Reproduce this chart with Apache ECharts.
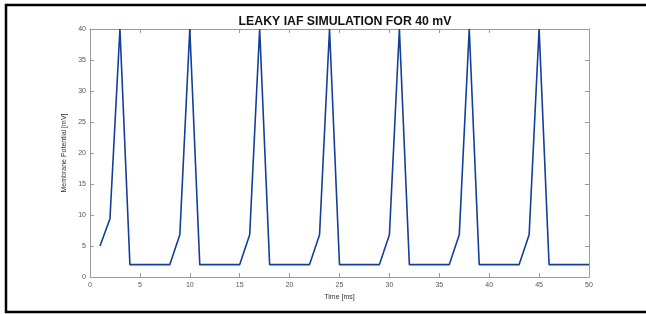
<!DOCTYPE html>
<html>
<head>
<meta charset="utf-8">
<script src="https://cdn.jsdelivr.net/npm/echarts@6/dist/echarts.min.js"></script>
<style>
html,body{margin:0;padding:0;background:#fff;overflow:hidden;}
#main{width:646px;height:314px;}
</style>
</head>
<body>
<div id="main"></div>
<script>
// time samples [ms] and membrane potential [mV]
var timeMs = [1,2,3,4,5,6,7,8,9,10,11,12,13,14,15,16,17,18,19,20,21,22,23,24,25,
              26,27,28,29,30,31,32,33,34,35,36,37,38,39,40,41,42,43,44,45,46,47,48,49,50];
var potential = [5,9.4,40,2,2,2,2,2,6.8,40,2,2,2,2,2,6.8,40,2,2,2,2,2,6.8,40,2,
                 2,2,2,2,6.8,40,2,2,2,2,2,6.8,40,2,2,2,2,2,6.8,40,2,2,2,2,2];

var pts = [];
for (var i = 0; i < timeMs.length; i++) {
    pts.push([timeMs[i], potential[i]]);
}

var font = 'Liberation Sans, Arial, sans-serif';
var axisGray = '#9a9a9a';

function boxAxis(pos, max, labels) {
    return {
        type: 'value',
        position: pos,
        min: 0, max: max, interval: 5,
        axisLine: {show: true, onZero: false, lineStyle: {color: axisGray, width: 1}},
        axisTick: {show: true, inside: true, length: 4, lineStyle: {color: axisGray}},
        axisLabel: {show: labels, fontSize: 7, color: '#555', margin: 5, fontFamily: font},
        splitLine: {show: false}
    };
}

var xBottom = boxAxis('bottom', 50, true);
xBottom.name = 'Time [ms]';
xBottom.nameLocation = 'middle';
xBottom.nameGap = 17;
xBottom.nameTextStyle = {fontSize: 7, color: '#333', fontFamily: font};

var yLeft = boxAxis('left', 40, true);
yLeft.axisLabel.margin = 4;
yLeft.name = 'Membrane Potential [mV]';
yLeft.nameLocation = 'middle';
yLeft.nameGap = 17;
yLeft.nameTextStyle = {fontSize: 7, color: '#333', fontFamily: font};

var chart = echarts.init(document.getElementById('main'));
chart.setOption({
    animation: false,
    backgroundColor: '#fff',
    title: {
        text: 'LEAKY IAF SIMULATION FOR 40 mV',
        left: 340,
        textAlign: 'center',
        top: 11,
        textStyle: {fontSize: 12.3, fontWeight: 'bold', color: '#111', fontFamily: font}
    },
    grid: {left: 90, right: 57, top: 29, bottom: 37},
    graphic: [{
        type: 'polyline',
        shape: {points: [[700, 5], [6, 5], [6, 312], [700, 312]]},
        style: {fill: null, stroke: '#000', lineWidth: 2.5},
        silent: true
    }],
    xAxis: [xBottom, boxAxis('top', 50, false)],
    yAxis: [yLeft, boxAxis('right', 40, false)],
    series: [{
        type: 'line',
        data: pts,
        symbol: 'none',
        lineStyle: {color: '#133f9a', width: 1.6},
        clip: true
    }]
});
</script>
</body>
</html>
